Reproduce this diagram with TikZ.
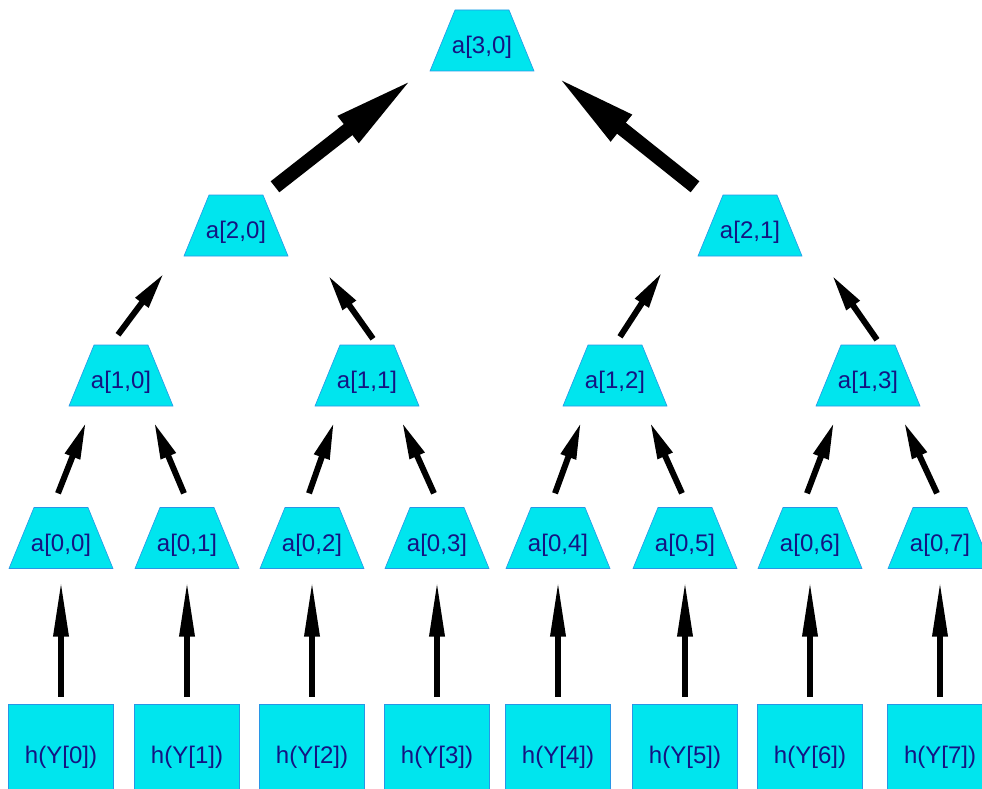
\documentclass[tikz,border=0pt]{standalone}
\usepackage{fontspec}
\setmainfont{Liberation Sans}
\usetikzlibrary{arrows.meta}
\definecolor{nodefill}{RGB}{0,229,238}
\definecolor{nodeedge}{RGB}{40,150,230}
\definecolor{labelblue}{RGB}{20,20,130}
\tikzset{
  trapshape/.style={fill=nodefill, draw=nodeedge, line width=0.6pt},
  traplabel/.style={minimum width=104pt, minimum height=61pt, inner sep=0pt,
    text height=26pt, text depth=0pt, text=labelblue,
    font=\fontsize{24}{28}\selectfont},
  hbox/.style={rectangle, fill=nodefill, draw=nodeedge, line width=0.8pt,
    minimum width=105pt, minimum height=106pt, inner sep=0pt, text=labelblue,
    font=\fontsize{24}{28}\selectfont},
  arrlow/.style={line width=6.5pt, -{Triangle[length=58pt,width=14pt]}},
  arrmid/.style={line width=6pt, -{Triangle[length=37pt,width=15pt]}},
  arrtop/.style={line width=14pt, -{Triangle[length=85pt,width=30pt]}}
}
\newcommand\mytrap[4]{%
  \path[trapshape] (#2-52,-#3-30.5) -- (#2+52,-#3-30.5) -- (#2+27,-#3+30.5) -- (#2-27,-#3+30.5) -- cycle;
  \node[traplabel] (#1) at (#2,-#3) {#4};}
\begin{document}
\begin{tikzpicture}[x=1pt,y=1pt]
\useasboundingbox (0,0) rectangle (982,-789);
\clip (0,0) rectangle (982,-789);
% level 3
\mytrap{a30}{482}{40.5}{a[3,0]}
% level 2
\mytrap{a20}{236}{225.5}{a[2,0]}
\mytrap{a21}{750}{225.5}{a[2,1]}
% level 1
\mytrap{a10}{121}{375.5}{a[1,0]}
\mytrap{a11}{367}{375.5}{a[1,1]}
\mytrap{a12}{615}{375.5}{a[1,2]}
\mytrap{a13}{868}{375.5}{a[1,3]}
% level 0
\mytrap{a00}{61}{538}{a[0,0]}
\mytrap{a01}{187}{538}{a[0,1]}
\mytrap{a02}{312}{538}{a[0,2]}
\mytrap{a03}{437}{538}{a[0,3]}
\mytrap{a04}{558}{538}{a[0,4]}
\mytrap{a05}{685}{538}{a[0,5]}
\mytrap{a06}{810}{538}{a[0,6]}
\mytrap{a07}{940}{538}{a[0,7]}
% leaves
\node[hbox] (h0) at (61,-757) {h(Y[0])};
\node[hbox] (h1) at (187,-757) {h(Y[1])};
\node[hbox] (h2) at (312,-757) {h(Y[2])};
\node[hbox] (h3) at (437,-757) {h(Y[3])};
\node[hbox] (h4) at (558,-757) {h(Y[4])};
\node[hbox] (h5) at (685,-757) {h(Y[5])};
\node[hbox] (h6) at (810,-757) {h(Y[6])};
\node[hbox] (h7) at (940,-757) {h(Y[7])};
% leaf arrows
\foreach \i in {0,...,7}{
  \draw[arrlow] ([yshift=7pt]h\i.north) -- ([yshift=-10pt]a0\i.south);
}
% level 0 -> 1
\draw[arrmid] ([shift={(-3,14)}]a00.north) -- ([shift={(-35,-16)}]a10.south);
\draw[arrmid] ([shift={(-3,14)}]a01.north) -- ([shift={(33,-16)}]a10.south);
\draw[arrmid] ([shift={(-3,14)}]a02.north) -- ([shift={(-33,-16)}]a11.south);
\draw[arrmid] ([shift={(-3,14)}]a03.north) -- ([shift={(35,-16)}]a11.south);
\draw[arrmid] ([shift={(-3,14)}]a04.north) -- ([shift={(-34,-16)}]a12.south);
\draw[arrmid] ([shift={(-3,14)}]a05.north) -- ([shift={(35,-16)}]a12.south);
\draw[arrmid] ([shift={(-3,14)}]a06.north) -- ([shift={(-34,-16)}]a13.south);
\draw[arrmid] ([shift={(-3,14)}]a07.north) -- ([shift={(36,-16)}]a13.south);
% level 1 -> 2
\draw[arrmid] ([shift={(-3,10)}]a10.north) -- ([shift={(-72,-17)}]a20.south);
\draw[arrmid] ([shift={(6,6)}]a11.north) -- ([shift={(92,-19)}]a20.south);
\draw[arrmid] ([shift={(5,8)}]a12.north) -- ([shift={(-88,-16)}]a21.south);
\draw[arrmid] ([shift={(9,5)}]a13.north) -- ([shift={(82,-19)}]a21.south);
% level 2 -> 3
\draw[arrtop] ([shift={(39,8)}]a20.north) -- ([shift={(-67,-6)}]a30.south);
\draw[arrtop] ([shift={(-55,8)}]a21.north) -- ([shift={(73,-4)}]a30.south);
\end{tikzpicture}
\end{document}
